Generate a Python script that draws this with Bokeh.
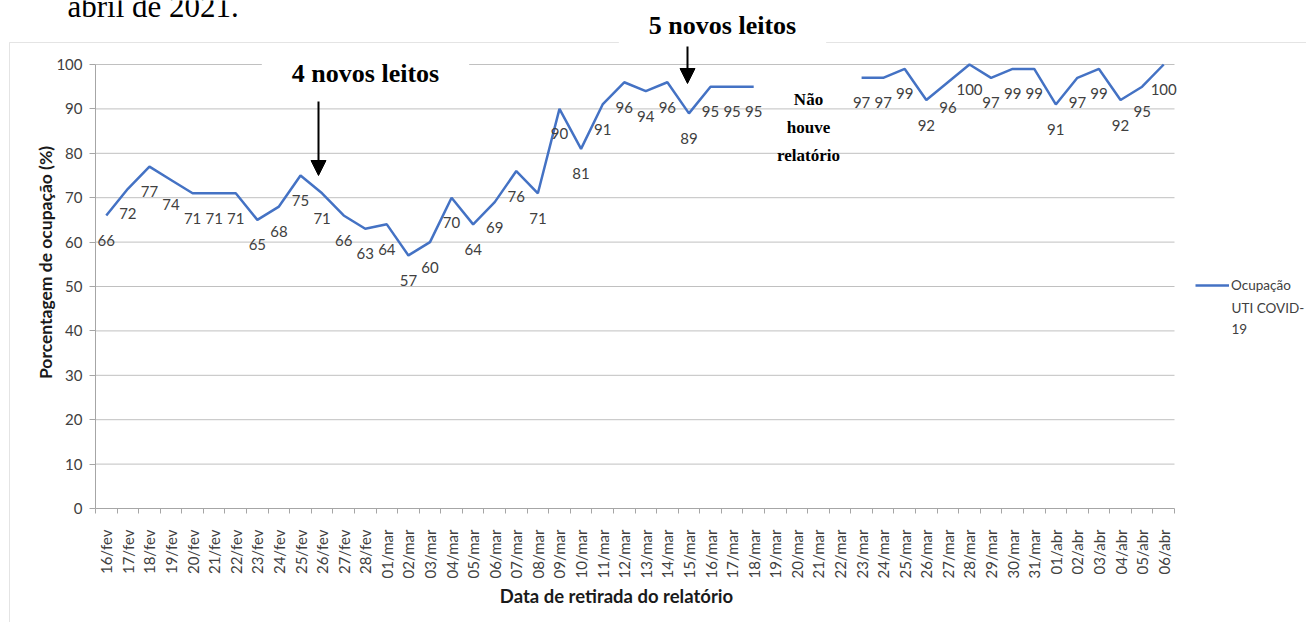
import numpy as np
from bokeh.plotting import figure
from bokeh.models import (Range1d, FixedTicker, Label, Arrow, NormalHead, BoxAnnotation,
                          Legend, LegendItem, ColumnDataSource, CustomJSTickFormatter)
from bokeh.embed import file_html
from bokeh.resources import INLINE
from bokeh.core.properties import value

# ---------------- data ----------------
dates = ["16/fev", "17/fev", "18/fev", "19/fev", "20/fev", "21/fev", "22/fev", "23/fev",
         "24/fev", "25/fev", "26/fev", "27/fev", "28/fev",
         "01/mar", "02/mar", "03/mar", "04/mar", "05/mar", "06/mar", "07/mar", "08/mar",
         "09/mar", "10/mar", "11/mar", "12/mar", "13/mar", "14/mar", "15/mar", "16/mar",
         "17/mar", "18/mar", "19/mar", "20/mar", "21/mar", "22/mar", "23/mar", "24/mar",
         "25/mar", "26/mar", "27/mar", "28/mar", "29/mar", "30/mar", "31/mar",
         "01/abr", "02/abr", "03/abr", "04/abr", "05/abr", "06/abr"]
occupancy = [66, 72, 77, 74, 71, 71, 71, 65, 68, 75, 71, 66, 63,
             64, 57, 60, 70, 64, 69, 76, 71, 90, 81, 91, 96, 94, 96, 89, 95, 95, 95,
             None, None, None, None,
             97, 97, 99, 92, 96, 100, 97, 99, 99,
             91, 97, 99, 92, 95, 100]
y_ticks = [0, 10, 20, 30, 40, 50, 60, 70, 80, 90, 100]
series_name = ["Ocupação", "UTI COVID-", "19"]
y_title = "Porcentagem de ocupação (%)"
x_title = "Data de retirada do relatório"
page_title = "abril de 2021."
note_4 = "4 novos leitos"
note_5 = "5 novos leitos"
no_report = ["Não", "houve", "relatório"]

# ---------------- geometry (page pixels) ----------------
W, H = 1306, 622
FL, FR, FT, FB = 95, 1174, 64, 508     # plot area in page pixels
N = len(dates)
YMAX = 100

def dx(px):
    return (px - FL) / (FR - FL) * N

def dy(py):
    return (FB - py) / (FB - FT) * YMAX

def sy(py):
    return H - py

p = figure(width=W, height=H, x_range=Range1d(dx(0), dx(W)), y_range=Range1d(dy(H), dy(0)),
           output_backend="svg", toolbar_location=None,
           min_border=0, min_border_left=0, min_border_right=0,
           min_border_top=0, min_border_bottom=0)
p.outline_line_color = None
p.background_fill_color = "white"
p.border_fill_color = "white"

xs = [i + 0.5 for i in range(N)]
ys = [np.nan if v is None else v for v in occupancy]

GRAY = "#a6a6a6"
GRID = "#c0c0c0"
TXT = "#404040"

# outer chart border
p.add_layout(BoxAnnotation(left=9, right=W + 50, top=sy(42), bottom=-50,
                           left_units="screen", right_units="screen",
                           top_units="screen", bottom_units="screen",
                           fill_alpha=0, line_color=GRAY, line_width=1))

# axes, fixed at the plot-area origin
p.xaxis.fixed_location = 0
p.xaxis.bounds = (0, N)
p.xaxis.ticker = FixedTicker(ticks=xs, minor_ticks=list(range(N + 1)))
p.xaxis.formatter = CustomJSTickFormatter(args=dict(labels=dates),
                                          code="return labels[Math.floor(tick)] || '';")
p.xaxis.major_label_orientation = np.pi / 2
p.xaxis.major_tick_out = 0
p.xaxis.major_tick_in = 0
p.xaxis.minor_tick_out = 5
p.xaxis.minor_tick_in = 0
p.xaxis.minor_tick_line_color = GRAY
p.xaxis.axis_line_color = GRAY
p.xaxis.major_label_standoff = 16
p.xaxis.major_label_text_font = "Lato"
p.xaxis.major_label_text_font_size = "15px"
p.xaxis.major_label_text_color = TXT

p.yaxis.fixed_location = 0
p.yaxis.bounds = (0, YMAX)
p.yaxis.ticker = FixedTicker(ticks=y_ticks)
p.yaxis.major_tick_out = 6
p.yaxis.major_tick_in = 0
p.yaxis.minor_tick_out = 0
p.yaxis.minor_tick_in = 0
p.yaxis.major_tick_line_color = GRAY
p.yaxis.axis_line_color = GRAY
p.yaxis.major_label_standoff = 7
p.yaxis.major_label_text_font = "Lato"
p.yaxis.major_label_text_font_size = "15px"
p.yaxis.major_label_text_color = TXT

p.xgrid.visible = False
p.ygrid.visible = False
gy = y_ticks[1:]
p.segment(x0=[0] * len(gy), y0=gy, x1=[N] * len(gy), y1=gy, line_color=GRID, line_width=1)

# series
line = p.line(xs, ys, line_color="#4472C4", line_width=2.5)

lx = [x for x, v in zip(xs, occupancy) if v is not None]
lv = [v for v in occupancy if v is not None]
lab_src = ColumnDataSource(dict(x=lx, y=lv, t=[str(v) for v in lv]))
p.text(x="x", y="y", text="t", source=lab_src, text_align="center", text_baseline="middle",
       y_offset=25, text_font=value("Lato"), text_font_size="15px", text_color=TXT)

# legend
legend = Legend(items=[LegendItem(label=series_name[0], renderers=[line])],
                location=(1195, sy(293)), padding=0, margin=0, spacing=0,
                border_line_color=None, background_fill_alpha=0,
                glyph_width=34, glyph_height=16, label_standoff=2, label_height=16,
                label_text_font="Lato", label_text_font_size="13.5px", label_text_color=TXT)
p.add_layout(legend)
for txt, py in zip(series_name[1:], [307, 328]):
    p.add_layout(Label(x=1231, y=sy(py), x_units="screen", y_units="screen", text=txt,
                       text_font="Lato", text_font_size="13.5px", text_color=TXT,
                       text_align="left", text_baseline="middle"))

# axis titles
p.add_layout(Label(x=45, y=sy(262), x_units="screen", y_units="screen", text=y_title,
                   angle=np.pi / 2, text_align="center", text_baseline="middle",
                   text_font="Lato", text_font_style="bold", text_font_size="17.5px",
                   text_color="#1a1a1a"))
p.add_layout(Label(x=616, y=sy(595), x_units="screen", y_units="screen", text=x_title,
                   text_align="center", text_baseline="middle",
                   text_font="Lato", text_font_style="bold", text_font_size="18.5px",
                   text_color="#1a1a1a"))

# page title fragment (cut by the top edge, as in the source)
p.add_layout(Label(x=67, y=sy(6), x_units="screen", y_units="screen", text=page_title,
                   text_align="left", text_baseline="alphabetic",
                   text_font="Liberation Serif", text_font_size="31px", text_color="black"))

# notes with white boxes
for txt, cx, cy in [(note_4, 365, 73), (note_5, 722, 25)]:
    p.add_layout(Label(x=cx, y=sy(cy), x_units="screen", y_units="screen", text=txt,
                       text_align="center", text_baseline="middle",
                       text_font="Liberation Serif", text_font_style="bold",
                       text_font_size="26px", text_color="black",
                       background_fill_color="white", padding=(30, 4)))

for txt, py in zip(no_report, [99, 127, 155]):
    p.add_layout(Label(x=808, y=sy(py), x_units="screen", y_units="screen", text=txt,
                       text_align="center", text_baseline="middle",
                       text_font="Liberation Serif", text_font_style="bold",
                       text_font_size="17px", text_color="black"))

# arrows
for ax, y0, y1 in [(318, 101, 175), (687, 46, 83)]:
    p.add_layout(Arrow(x_start=dx(ax), y_start=dy(y0), x_end=dx(ax), y_end=dy(y1),
                       line_color="black", line_width=2,
                       end=NormalHead(size=15, fill_color="black", line_color="black",
                                      line_width=1)))

open("out.html", "w").write(file_html(p, INLINE))
